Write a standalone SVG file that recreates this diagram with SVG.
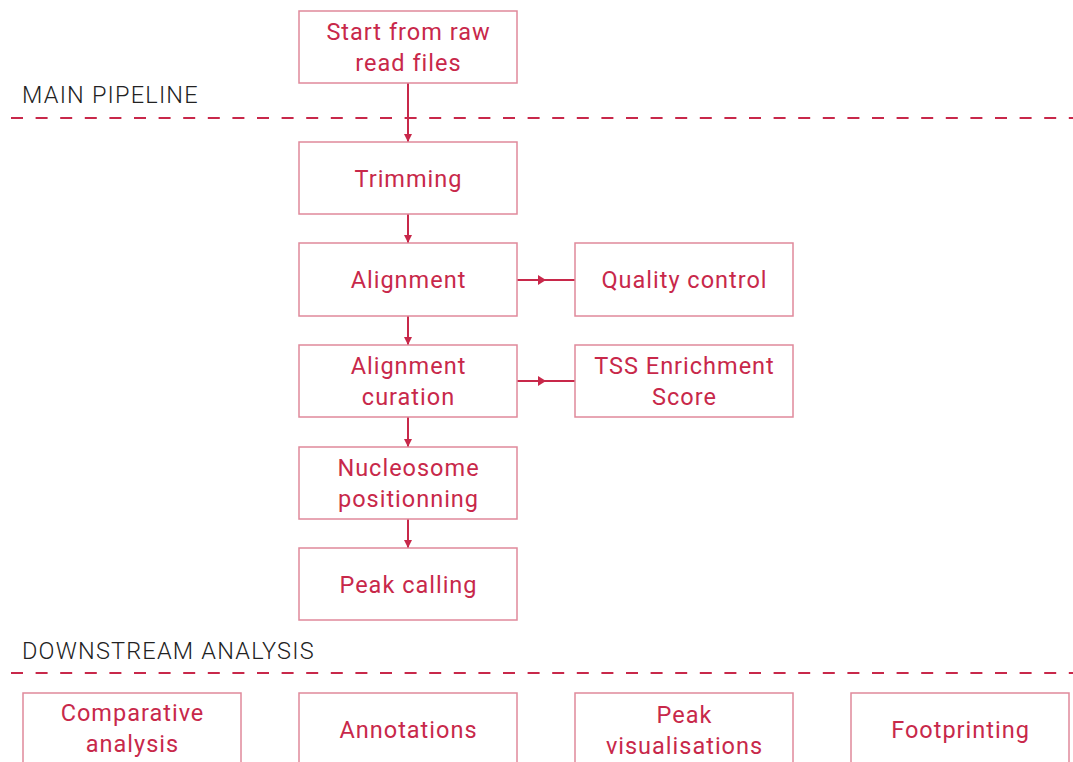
<svg xmlns="http://www.w3.org/2000/svg" width="1073" height="762" viewBox="0 0 1073 762">
<defs>
<style>
.box{fill:#ffffff;stroke:#e0899b;stroke-width:1.5}
.t{font-family:Roboto,"Liberation Sans",sans-serif;font-size:23.5px;letter-spacing:1px;fill:#c8284a;text-anchor:middle}
.sec{font-family:Roboto,"Liberation Sans",sans-serif;font-size:23.5px;font-weight:300;letter-spacing:1.2px;fill:#222222}
.dash{stroke:#c8284a;stroke-width:2;stroke-dasharray:12 12.6;fill:none}
.c{stroke:#c8284a;stroke-width:2;fill:none}
.ah{fill:#c8284a}
</style>
<marker id="arr" markerWidth="8" markerHeight="8" refX="8" refY="4" orient="auto" markerUnits="userSpaceOnUse">
<path d="M0,0 L8,4 L0,8 Z" fill="#c8284a"/>
</marker>
</defs>
<rect width="1073" height="762" fill="#ffffff"/>
<g id="sections">
<text class="sec" x="22" y="103">MAIN PIPELINE</text>
<line class="dash" x1="11" y1="118" x2="1073" y2="118"/>
<text class="sec" x="22" y="659">DOWNSTREAM ANALYSIS</text>
<line class="dash" x1="11" y1="673" x2="1073" y2="673"/>
</g>
<g id="connectors">
<line class="c" x1="408" y1="83" x2="408" y2="142" marker-end="url(#arr)"/>
<line class="c" x1="408" y1="214" x2="408" y2="243" marker-end="url(#arr)"/>
<line class="c" x1="408" y1="316" x2="408" y2="345" marker-end="url(#arr)"/>
<line class="c" x1="408" y1="417" x2="408" y2="447" marker-end="url(#arr)"/>
<line class="c" x1="408" y1="519" x2="408" y2="548" marker-end="url(#arr)"/>
<line class="c" x1="517" y1="280" x2="575" y2="280"/>
<path class="ah" d="M538,275 L546,280 L538,285 Z"/>
<line class="c" x1="517" y1="381" x2="575" y2="381"/>
<path class="ah" d="M538,376 L546,381 L538,386 Z"/>
</g>
<g id="start"><rect class="box" x="299" y="11" width="218" height="72"/><text class="t" x="408.5" y="40">Start from raw</text><text class="t" x="408.5" y="71">read files</text></g>
<g id="trimming"><rect class="box" x="299" y="142" width="218" height="72"/><text class="t" x="408.5" y="187">Trimming</text></g>
<g id="alignment"><rect class="box" x="299" y="243" width="218" height="73"/><text class="t" x="408.5" y="288">Alignment</text></g>
<g id="qc"><rect class="box" x="575" y="243" width="218" height="73"/><text class="t" x="684.5" y="288">Quality control</text></g>
<g id="curation"><rect class="box" x="299" y="345" width="218" height="72"/><text class="t" x="408.5" y="374">Alignment</text><text class="t" x="408.5" y="405">curation</text></g>
<g id="tss"><rect class="box" x="575" y="345" width="218" height="72"/><text class="t" x="684.5" y="374">TSS Enrichment</text><text class="t" x="684.5" y="405">Score</text></g>
<g id="nucleosome"><rect class="box" x="299" y="447" width="218" height="72"/><text class="t" x="408.5" y="476">Nucleosome</text><text class="t" x="408.5" y="507">positionning</text></g>
<g id="peakcalling"><rect class="box" x="299" y="548" width="218" height="72"/><text class="t" x="408.5" y="593">Peak calling</text></g>
<g id="comparative"><rect class="box" x="23" y="693" width="218" height="72"/><text class="t" x="132.5" y="721">Comparative</text><text class="t" x="132.5" y="752">analysis</text></g>
<g id="annotations"><rect class="box" x="299" y="693" width="218" height="72"/><text class="t" x="408.5" y="738">Annotations</text></g>
<g id="peakvis"><rect class="box" x="575" y="693" width="218" height="72"/><text class="t" x="684.5" y="723">Peak</text><text class="t" x="684.5" y="754">visualisations</text></g>
<g id="footprinting"><rect class="box" x="851" y="693" width="218" height="72"/><text class="t" x="960.5" y="738">Footprinting</text></g>
</svg>
